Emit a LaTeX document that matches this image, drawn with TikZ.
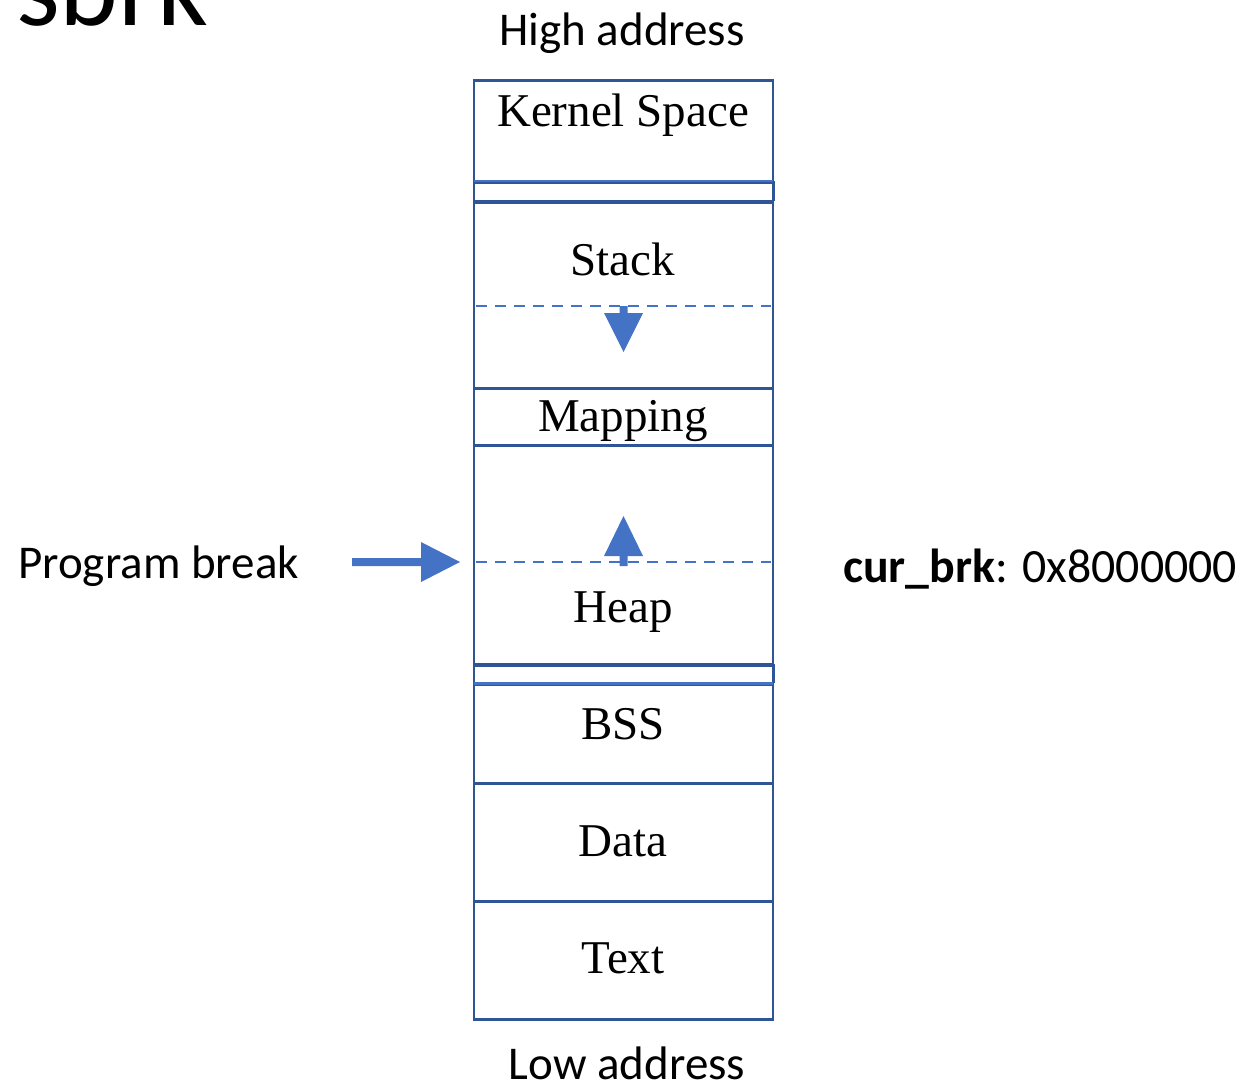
\documentclass[tikz,border=0pt]{standalone}
\usepackage{fontspec}
\setmainfont{Liberation Serif}
\newfontfamily\calib{Carlito}
\definecolor{boxblue}{HTML}{2F5597}
\definecolor{accent}{HTML}{4472C4}
\begin{document}
\begin{tikzpicture}[x=1pt,y=-1pt,
  seg/.style={draw=boxblue, line width=2.6pt, minimum width=299pt, inner sep=0pt, anchor=north},
  gapseg/.style={draw=none, minimum width=299pt, inner sep=0pt, anchor=north},
  lbl/.style={font=\fontsize{47}{56}\selectfont, anchor=base, inner sep=0pt},
  slbl/.style={font=\calib\fontsize{47}{56}\selectfont, inner sep=0pt},
  dashline/.style={draw=accent, line width=2.2pt, dash pattern=on 11pt off 8pt},
  blk/.style={fill=accent, draw=none}]
\useasboundingbox (0,0) rectangle (1243,1087);
\clip (0,0) rectangle (1243,1087);
% title
\node[font=\calib\fontsize{112}{130}\selectfont, anchor=base west, inner sep=0pt] (title) at (16,25) {sbrk};
% segments
\node[seg, minimum height=102pt] (kernel) at (623.5,79) {};
\node[gapseg, minimum height=20pt] (gap1) at (623.5,181) {};
\node[seg, minimum height=186pt] (stack) at (623.5,201) {};
\node[seg, minimum height=57pt] (mapping) at (623.5,387) {};
\node[seg, minimum height=220pt] (heap) at (623.5,444) {};
\node[gapseg, minimum height=19pt] (gap2) at (623.5,664) {};
\node[seg, minimum height=99pt] (bss) at (623.5,683) {};
\node[seg, minimum height=118pt] (data) at (623.5,782) {};
\node[seg, minimum height=118pt] (text) at (623.5,900) {};
\draw[boxblue, line width=2.6pt] (gap1.north west) -- (gap1.south west) (gap1.north east) -- (gap1.south east);
\draw[boxblue, line width=2.6pt] (gap2.north west) -- (gap2.south west) (gap2.north east) -- (gap2.south east);
\draw[accent, line width=2.6pt] (gap1.north west) -- (gap1.north east);
\draw[accent, line width=2.6pt] (gap2.south west) -- (gap2.south east);
\draw[boxblue, line width=2.6pt] (gap1.south west) -- (gap1.south east);
\draw[boxblue, line width=2.6pt] (gap2.north west) -- (gap2.north east);
% labels
\node[lbl] (lk) at (623,126) {Kernel Space};
\node[lbl] (ls) at (623,275) {Stack};
\node[lbl] (lm) at (623,431) {Mapping};
\node[lbl] (lh) at (623,622) {Heap};
\node[lbl] (lb) at (623,739) {BSS};
\node[lbl] (ld) at (623,856) {Data};
\node[lbl] (lt) at (623,973) {Text};
\node[slbl, anchor=base] (high) at (622,45) {High address};
\node[slbl, anchor=base, text depth=0pt] (low) at (627,1079) {Low address};
\node[slbl, anchor=base west] (pb) at (18,578) {Program break};
\node[slbl, anchor=base west, font=\calib\fontsize{47.8}{56}\selectfont] (cur) at (843,582) {\textbf{cur\_brk}: 0x8000000};
% dashed lines
\coordinate (sdl) at (476,306);
\coordinate (sdr) at (771,306);
\coordinate (hdl) at (476,562);
\coordinate (hdr) at (771,562);
\draw[dashline] (sdl) -- (sdr);
\draw[dashline] (hdl) -- (hdr);
% stack down arrow
\fill[blk] (619.5,306) -- (627.5,306) -- (627.5,313) -- (643,313) -- (623.5,352) -- (604,313) -- (619.5,313) -- cycle;
% heap up arrow
\fill[blk] (619.5,566) -- (627.5,566) -- (627.5,556) -- (643,556) -- (623.5,516) -- (604,556) -- (619.5,556) -- cycle;
% program break arrow
\fill[blk] (352,558) -- (421,558) -- (421,542) -- (460,562) -- (421,582) -- (421,566) -- (352,566) -- cycle;
\end{tikzpicture}
\end{document}
